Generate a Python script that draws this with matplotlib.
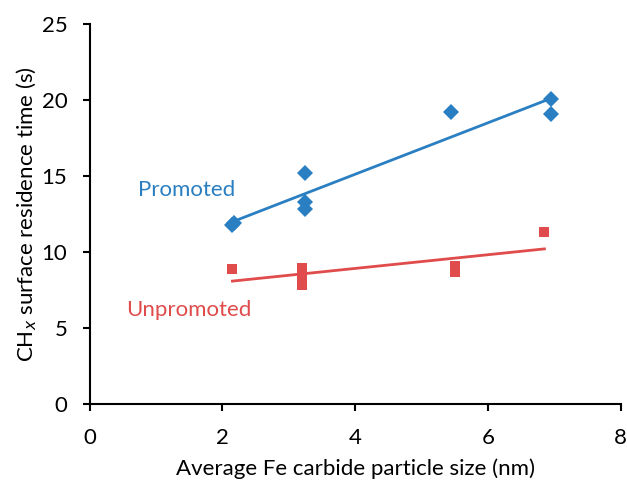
import numpy as np
import matplotlib
matplotlib.use('Agg')
import matplotlib.pyplot as plt

# particle size (nm) vs CHx residence time (s)
promoted_x = [2.15, 2.17, 3.25, 3.25, 3.25, 5.45, 6.95, 6.95]
promoted_y = [11.75, 11.9, 15.2, 13.3, 12.85, 19.2, 20.05, 19.1]
unpromoted_x = [2.15, 3.2, 3.2, 3.2, 5.5, 5.5, 6.85]
unpromoted_y = [8.85, 8.95, 8.4, 7.85, 9.1, 8.7, 11.3]

blue = '#2a7fc2'
red = '#e04b4b'

plt.rcParams['font.family'] = ['Lato', 'DejaVu Sans']
fig = plt.figure(figsize=(6.27, 4.82), dpi=100)
ax = fig.add_axes([0.143, 0.162, 0.847, 0.788])

for xs, ys, c, m, ms in [(promoted_x, promoted_y, blue, 'D', 8.0),
                         (unpromoted_x, unpromoted_y, red, 's', 7.7)]:
    ax.plot(xs, ys, linestyle='none', marker=m, markersize=ms, color=c, markeredgewidth=0)
    k, b = np.polyfit(xs, ys, 1)
    xl = np.array([min(xs), max(xs)])
    ax.plot(xl, k * xl + b, color=c, linewidth=2)

ax.text(1.46, 14.1, 'Promoted', color=blue, fontsize=16, ha='center', va='center')
ax.text(1.49, 6.2, 'Unpromoted', color=red, fontsize=16, ha='center', va='center')

ax.set_xlim(0, 8)
ax.set_ylim(0, 25)
ax.set_xticks([0, 2, 4, 6, 8])
ax.set_yticks([0, 5, 10, 15, 20, 25])
ax.spines['top'].set_visible(False)
ax.spines['right'].set_visible(False)
for s in ['left', 'bottom']:
    ax.spines[s].set_linewidth(1.5)
ax.tick_params(direction='out', length=5, width=1.5, labelsize=16)
ax.tick_params(axis='y', pad=11)
ax.tick_params(axis='x', pad=12)
ax.set_xlabel('Average Fe carbide particle size (nm)', fontsize=16, labelpad=8)
ax.set_ylabel('CH$_\\mathit{x}$ surface residence time (s)', fontsize=16, labelpad=2)

fig.savefig('out.png', dpi=100)
